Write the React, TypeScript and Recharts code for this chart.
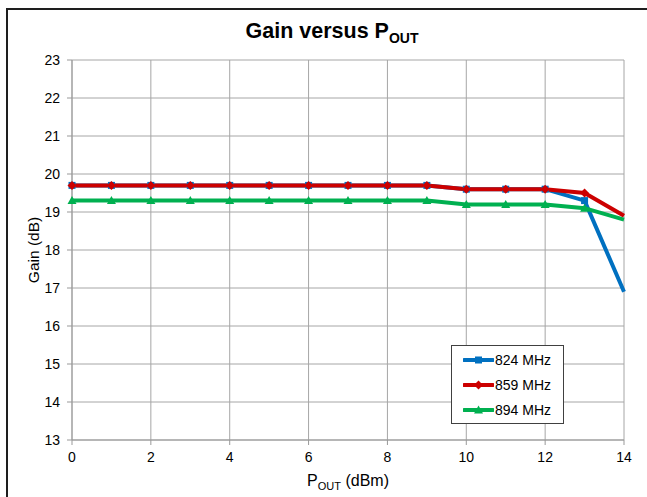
import React from 'react';
import { LineChart, Line, XAxis, YAxis, CartesianGrid, Legend, Label } from 'recharts';

const FONT = '"Liberation Sans", Arial, Helvetica, sans-serif';

const poutDbm = [0, 1, 2, 3, 4, 5, 6, 7, 8, 9, 10, 11, 12, 13, 14];
const gain824 = [19.7, 19.7, 19.7, 19.7, 19.7, 19.7, 19.7, 19.7, 19.7, 19.7, 19.6, 19.6, 19.6, 19.3, 16.9];
const gain859 = [19.7, 19.7, 19.7, 19.7, 19.7, 19.7, 19.7, 19.7, 19.7, 19.7, 19.6, 19.6, 19.6, 19.5, 18.9];
const gain894 = [19.3, 19.3, 19.3, 19.3, 19.3, 19.3, 19.3, 19.3, 19.3, 19.3, 19.2, 19.2, 19.2, 19.1, 18.8];
const xTicks = [0, 2, 4, 6, 8, 10, 12, 14];
const yTicks = [13, 14, 15, 16, 17, 18, 19, 20, 21, 22, 23];
const seriesNames = ['824 MHz', '859 MHz', '894 MHz'];
const seriesColors = ['#0070C0', '#CC0000', '#00B050'];

const data = poutDbm.map((p, i) => ({ pout: p, g824: gain824[i], g859: gain859[i], g894: gain894[i] }));
const LAST = poutDbm.length - 1;

const markerShape = (kind: number, cx: number, cy: number, color: string, key?: string) => {
  if (kind === 0) return <rect key={key} x={cx - 3.5} y={cy - 3.5} width={7} height={7} fill={color} />;
  if (kind === 1) return <polygon key={key} points={`${cx},${cy - 4.5} ${cx + 4.5},${cy} ${cx},${cy + 4.5} ${cx - 4.5},${cy}`} fill={color} />;
  return <polygon key={key} points={`${cx},${cy - 4.5} ${cx + 4.5},${cy + 3.5} ${cx - 4.5},${cy + 3.5}`} fill={color} />;
};

const makeDot = (kind: number) => (props: any) => {
  const { cx, cy, index } = props;
  const key = `d${kind}-${index}`;
  if (index === LAST || cx == null || cy == null) return <g key={key} />;
  return markerShape(kind, cx, cy, seriesColors[kind], key);
};

const XTick = (props: any) => {
  const { x, y, payload } = props;
  return (
    <text x={x} y={y} dy="0.75em" textAnchor="middle" fontFamily={FONT} fontSize={14} fill="#000">
      {payload.value}
    </text>
  );
};

const YTick = (props: any) => {
  const { x, y, payload } = props;
  return (
    <text x={x} y={y} dy="0.36em" textAnchor="end" fontFamily={FONT} fontSize={14} fill="#000">
      {payload.value}
    </text>
  );
};

const renderLegend = () => (
  <div
    style={{
      width: 113,
      height: 79,
      boxSizing: 'border-box',
      border: '1px solid #404040',
      background: '#fff',
      position: 'relative',
      fontFamily: FONT,
      fontSize: 14,
      color: '#000',
    }}
  >
    {seriesNames.map((name, i) => (
      <div
        key={name}
        style={{ position: 'absolute', left: 11, top: 6 + i * 25, height: 16, display: 'flex', alignItems: 'center' }}
      >
        <svg width={31} height={12} style={{ display: 'block' }}>
          <line x1={1} y1={6} x2={30} y2={6} stroke={seriesColors[i]} strokeWidth={4} strokeLinecap="round" />
          {markerShape(i, 15.5, 6, seriesColors[i])}
        </svg>
        <span style={{ marginLeft: 1, whiteSpace: 'nowrap' }}>{name}</span>
      </div>
    ))}
  </div>
);

const XTitle = (props: any) => {
  const vb = props.viewBox || { x: 72, y: 440, width: 552, height: 30 };
  const cx = vb.x + vb.width / 2;
  return (
    <text x={cx} y={vb.y + 46} textAnchor="middle" fontFamily={FONT} fontSize={16} fill="#000">
      P
      <tspan fontSize={11} dy={4}>OUT</tspan>
      <tspan fontSize={16} dy={-4}> (dBm)</tspan>
    </text>
  );
};

const YTitle = (props: any) => {
  const vb = props.viewBox || { x: 0, y: 60, width: 72, height: 380 };
  const cy = vb.y + vb.height / 2;
  const cx = 33;
  return (
    <text
      x={cx}
      y={cy}
      transform={`rotate(-90, ${cx}, ${cy})`}
      textAnchor="middle"
      dominantBaseline="central"
      fontFamily={FONT}
      fontSize={15.5}
      fill="#000"
    >
      Gain (dB)
    </text>
  );
};

export default function App() {
  return (
    <div style={{ position: 'absolute', left: 0, top: 0, width: 647, height: 497, overflow: 'hidden', background: '#fff' }}>
      <div
        style={{
          position: 'absolute',
          left: 6,
          top: 8,
          width: 700,
          height: 600,
          borderTop: '2px solid #1e1e1e',
          borderLeft: '2px solid #1e1e1e',
        }}
      />
      <svg width={647} height={60} style={{ position: 'absolute', left: 0, top: 0 }}>
        <text x={332} y={38} textAnchor="middle" fontFamily={FONT} fontSize={21.5} fontWeight="bold" fill="#000">
          Gain versus P
          <tspan fontSize={14} dy={5}>OUT</tspan>
        </text>
      </svg>
      <div style={{ position: 'absolute', left: 0, top: 0 }}>
        <LineChart
          width={647}
          height={497}
          data={data}
          margin={{ top: 60, right: 23, bottom: 27, left: 0 }}
          style={{ fontFamily: FONT }}
        >
          <CartesianGrid stroke="#a6a6a6" strokeWidth={1} vertical horizontal />
          <XAxis
            dataKey="pout"
            type="number"
            domain={[0, 14]}
            ticks={xTicks}
            interval={0}
            height={30}
            stroke="#999"
            tickSize={5}
            tickMargin={6}
            tick={<XTick />}
            allowDecimals={false}
          >
            <Label content={<XTitle />} />
          </XAxis>
          <YAxis
            type="number"
            domain={[13, 23]}
            ticks={yTicks}
            interval={0}
            width={72}
            stroke="#999"
            tickSize={5}
            tickMargin={7}
            tick={<YTick />}
          >
            <Label content={<YTitle />} />
          </YAxis>
          <Legend
            layout="vertical"
            align="center"
            verticalAlign="middle"
            content={renderLegend}
            wrapperStyle={{ left: 451, top: 345, width: 113, height: 79 }}
          />
          <Line
            type="linear"
            dataKey="g824"
            name={seriesNames[0]}
            stroke={seriesColors[0]}
            strokeWidth={4}
            dot={makeDot(0)}
            activeDot={false}
            isAnimationActive={false}
          />
          <Line
            type="linear"
            dataKey="g859"
            name={seriesNames[1]}
            stroke={seriesColors[1]}
            strokeWidth={4}
            dot={makeDot(1)}
            activeDot={false}
            isAnimationActive={false}
          />
          <Line
            type="linear"
            dataKey="g894"
            name={seriesNames[2]}
            stroke={seriesColors[2]}
            strokeWidth={4}
            dot={makeDot(2)}
            activeDot={false}
            isAnimationActive={false}
          />
        </LineChart>
      </div>
    </div>
  );
}
